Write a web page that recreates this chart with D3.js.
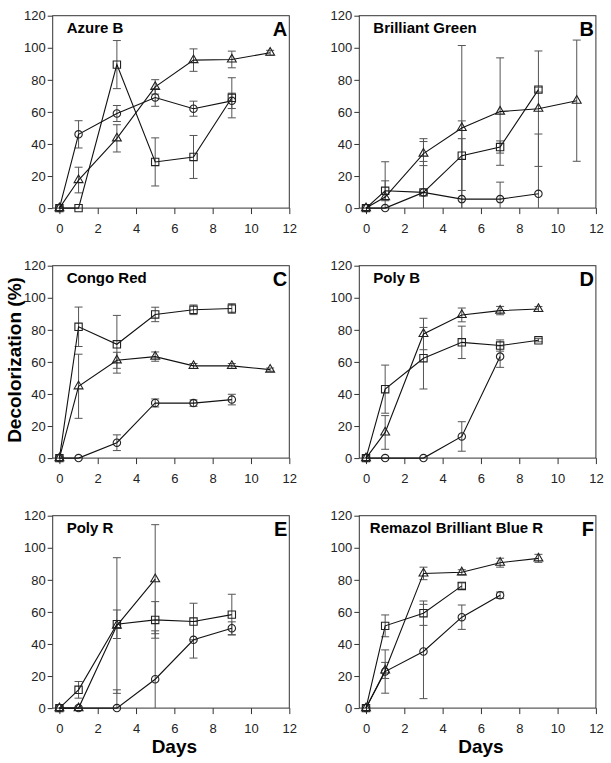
<!DOCTYPE html>
<html>
<head>
<meta charset="utf-8">
<script src="https://cdn.jsdelivr.net/npm/d3@7"></script>
<style>
  body { margin: 0; background: #fff; }
  text { font-family: "Liberation Sans", Arial, sans-serif; }
</style>
</head>
<body>
<div id="chart"></div>
<script>
// sampling days
var days6 = [0, 1, 3, 5, 7, 9];
var days7 = [0, 1, 3, 5, 7, 9, 11];
var days5 = [0, 1, 3, 5, 7];
var days4 = [0, 1, 3, 5];

// A - Azure B
var azureCircle = [0, 46, 59, 69, 62, 66.9];
var azureCircleErr = [0, 8.5, 5, 5.5, 4.7, 4.8];
var azureSquare = [0, 0, 89.5, 28.8, 31.9, 68.8];
var azureSquareErr = [0, 0, 15, 15, 13.4, 12.5];
var azureTriangle = [0, 17.5, 43.5, 75.6, 92.3, 92.7, 96.9];
var azureTriangleErr = [0, 8, 8.5, 4.5, 7, 5.2, 1.5];

// B - Brilliant Green
var greenCircle = [0, 0, 9.8, 5.6, 5.6, 8.9];
var greenCircleErr = [0, 0, 19.3, 37.7, 10.6, 37.3];
var greenSquare = [0, 10.8, 9.8, 32.7, 38.1, 73.9];
var greenSquareErr = [0, 6.2, 33.5, 21.7, 3.8, 1.5];
var greenTriangle = [0, 6.9, 34, 50, 60.2, 62, 67];
var greenTriangleErr = [0, 22, 7.5, 51.4, 33.5, 36, 37.8];

// C - Congo Red
var congoCircle = [0, 0, 9.6, 34.4, 34.3, 36.5];
var congoCircleErr = [0, 0, 4.9, 2.5, 2, 3.3];
var congoSquare = [0, 81.9, 71, 89.6, 92.5, 93.3];
var congoSquareErr = [0, 12.3, 18, 4.5, 3, 3];
var congoTriangle = [0, 44.8, 61, 63.3, 57.5, 57.5, 55.2];
var congoTriangleErr = [0, 20, 5, 2.9, 1.5, 1.5, 1];

// D - Poly B
var polyBCircle = [0, 0, 0, 13.5, 63.3];
var polyBCircleErr = [0, 0, 0, 9.2, 6.7];
var polyBSquare = [0, 43, 62.3, 72.2, 70.2, 73.5];
var polyBSquareErr = [0, 15, 19.2, 10.1, 3.5, 1];
var polyBTriangle = [0, 16, 77.4, 89.3, 92, 93];
var polyBTriangleErr = [0, 10.5, 9.8, 4.3, 2.6, 1.5];

// E - Poly R
var polyRCircle = [0, 0, 0, 18, 42.6, 49.8];
var polyRCircleErr = [0, 0, 11.4, 30.2, 11.4, 4];
var polyRSquare = [0, 11.4, 52.3, 55, 54, 58.3];
var polyRSquareErr = [0, 5.2, 8.9, 11.4, 11.4, 12.7];
var polyRTriangle = [0, 0, 51.5, 80.4];
var polyRTriangleErr = [0, 0, 42.3, 34];

// F - Remazol Brilliant Blue R
var rbbrCircle = [0, 22.8, 35.3, 56.7, 70.4];
var rbbrCircleErr = [0, 13.5, 29.4, 7.6, 2];
var rbbrSquare = [0, 51.3, 59.2, 76.2];
var rbbrSquareErr = [0, 6.8, 7.6, 1.9];
var rbbrTriangle = [0, 23.5, 84, 84.7, 90.7, 93.4];
var rbbrTriangleErr = [0, 5, 3.9, 1.6, 2.8, 2.5];

var xTicks = [0, 2, 4, 6, 8, 10, 12];
var yTicks = [0, 20, 40, 60, 80, 100, 120];

function series(shape, x, y, err) {
    return { shape: shape, points: x.map(function (d, i) { return { x: d, y: y[i], e: err[i] }; }) };
}

var panels = [
    { title: "Azure B", letter: "A", col: 0, row: 0, titleDx: 14, series: [
        series("circle", days6, azureCircle, azureCircleErr),
        series("square", days6, azureSquare, azureSquareErr),
        series("triangle", days7, azureTriangle, azureTriangleErr)] },
    { title: "Brilliant Green", letter: "B", col: 1, row: 0, titleDx: 14, series: [
        series("circle", days6, greenCircle, greenCircleErr),
        series("square", days6, greenSquare, greenSquareErr),
        series("triangle", days7, greenTriangle, greenTriangleErr)] },
    { title: "Congo Red", letter: "C", col: 0, row: 1, titleDx: 14, series: [
        series("circle", days6, congoCircle, congoCircleErr),
        series("square", days6, congoSquare, congoSquareErr),
        series("triangle", days7, congoTriangle, congoTriangleErr)] },
    { title: "Poly B", letter: "D", col: 1, row: 1, titleDx: 14, series: [
        series("circle", days5, polyBCircle, polyBCircleErr),
        series("square", days6, polyBSquare, polyBSquareErr),
        series("triangle", days6, polyBTriangle, polyBTriangleErr)] },
    { title: "Poly R", letter: "E", col: 0, row: 2, titleDx: 14, series: [
        series("circle", days6, polyRCircle, polyRCircleErr),
        series("square", days6, polyRSquare, polyRSquareErr),
        series("triangle", days4, polyRTriangle, polyRTriangleErr)] },
    { title: "Remazol Brilliant Blue R", letter: "F", col: 1, row: 2, titleDx: 10.5, series: [
        series("circle", days5, rbbrCircle, rbbrCircleErr),
        series("square", days4, rbbrSquare, rbbrSquareErr),
        series("triangle", days6, rbbrTriangle, rbbrTriangleErr)] }
];

var width = 611, height = 763;
var colLeft = [52.7, 359.3];
var rowTop = [15.7, 265.7, 515.7];
var pw = 236.6, ph = 192.4;

var svg = d3.select("#chart").append("svg")
    .attr("width", width)
    .attr("height", height);

svg.append("rect").attr("width", width).attr("height", height).attr("fill", "white");

var x = d3.scaleLinear().domain([-0.35, 12]).range([0, pw]);
var y = d3.scaleLinear().domain([0, 120]).range([ph, 0]);

var symbols = {
    circle: d3.symbol().type(d3.symbolCircle).size(43),
    square: d3.symbol().type(d3.symbolSquare).size(54),
    triangle: d3.symbol().type(d3.symbolTriangle).size(34)
};

var line = d3.line()
    .x(function (d) { return x(d.x); })
    .y(function (d) { return y(d.y); });

panels.forEach(function (p, pi) {
    var g = svg.append("g")
        .attr("transform", "translate(" + colLeft[p.col] + "," + rowTop[p.row] + ")");

    svg.append("clipPath").attr("id", "clip" + pi)
        .append("rect").attr("width", pw).attr("height", ph);

    var xa = g.append("g")
        .attr("transform", "translate(0," + ph + ")")
        .call(d3.axisBottom(x).tickValues(xTicks).tickSize(6).tickSizeOuter(0).tickPadding(10));
    var ya = g.append("g")
        .call(d3.axisLeft(y).tickValues(yTicks).tickSize(5).tickSizeOuter(0).tickPadding(2));
    [xa, ya].forEach(function (a) {
        a.select(".domain").remove();
        a.selectAll("line").attr("stroke", "#333");
        a.selectAll("text").attr("font-size", "13px").attr("fill", "#222")
            .attr("font-family", "'Liberation Sans', Arial, sans-serif");
    });

    g.append("rect")
        .attr("width", pw).attr("height", ph)
        .attr("fill", "none").attr("stroke", "#333").attr("stroke-width", 1);

    g.append("text")
        .attr("x", p.titleDx).attr("y", 17)
        .attr("font-size", "15px").attr("font-weight", "bold")
        .text(p.title);

    g.append("text")
        .attr("x", pw - 2).attr("y", 20.5)
        .attr("text-anchor", "end")
        .attr("font-size", "20px").attr("font-weight", "bold")
        .text(p.letter);

    // error bars
    var eb = g.append("g").attr("clip-path", "url(#clip" + pi + ")")
        .attr("stroke", "#555").attr("stroke-width", 1);
    p.series.forEach(function (s) {
        s.points.filter(function (d) { return d.e > 0; }).forEach(function (d) {
            var cx = x(d.x), y0 = y(d.y - d.e), y1 = y(d.y + d.e);
            eb.append("line").attr("x1", cx).attr("x2", cx).attr("y1", y0).attr("y2", y1);
            eb.append("line").attr("x1", cx - 4).attr("x2", cx + 4).attr("y1", y0).attr("y2", y0);
            eb.append("line").attr("x1", cx - 4).attr("x2", cx + 4).attr("y1", y1).attr("y2", y1);
        });
    });

    // lines and markers
    p.series.forEach(function (s) {
        g.append("path")
            .attr("d", line(s.points))
            .attr("fill", "none").attr("stroke", "#111").attr("stroke-width", 1.1);
        g.selectAll(null)
            .data(s.points)
            .enter().append("path")
            .attr("d", symbols[s.shape])
            .attr("transform", function (d) { return "translate(" + x(d.x) + "," + y(d.y) + ")"; })
            .attr("fill", "none").attr("stroke", "#222").attr("stroke-width", 1.1);
    });

    if (p.row === 2) {
        g.append("text")
            .attr("x", x(6)).attr("y", ph + 45)
            .attr("text-anchor", "middle")
            .attr("font-size", "19px").attr("font-weight", "bold")
            .text("Days");
    }
});

svg.append("text")
    .attr("transform", "translate(20.5,360) rotate(-90)")
    .attr("text-anchor", "middle")
    .attr("font-size", "19px").attr("font-weight", "bold")
    .text("Decolorization (%)");
</script>
</body>
</html>
